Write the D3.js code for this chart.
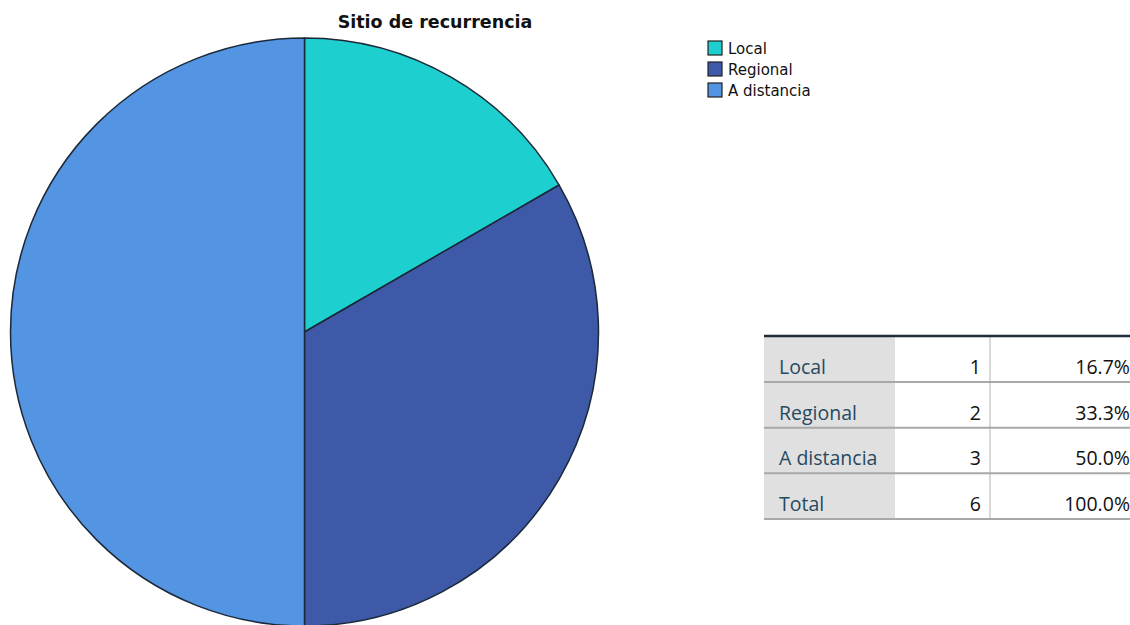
<!DOCTYPE html>
<html>
<head>
<meta charset="utf-8">
<script src="https://cdn.jsdelivr.net/npm/d3@7"></script>
<style>
  html, body { margin: 0; padding: 0; background: #fff; overflow: hidden; }
  svg { display: block; }
</style>
</head>
<body>
<svg id="chart" width="1130" height="625"></svg>
<script>
// Recurrence site frequencies
const categories = ["Local", "Regional", "A distancia"];
const counts = [1, 2, 3];
const colors = ["#1dcfcf", "#3e59a8", "#5394e3"];
const totalLabel = "Total";
const title = "Sitio de recurrencia";

const svg = d3.select("#chart");
const total = d3.sum(counts);
const fmtPct = v => (v * 100).toFixed(1) + "%";

// Title
svg.append("text")
  .attr("x", 435).attr("y", 28)
  .attr("text-anchor", "middle")
  .attr("font-family", "'DejaVu Sans', sans-serif")
  .attr("font-weight", "bold")
  .attr("font-size", 17.5)
  .attr("fill", "#111")
  .text(title);

// Pie
const cx = 304.5, cy = 332, r = 294;
const pie = d3.pie().sort(null).value(d => d.value);
const arc = d3.arc().innerRadius(0).outerRadius(r);
const slices = pie(categories.map((c, i) => ({ name: c, value: counts[i], color: colors[i] })));

svg.append("g")
  .attr("transform", `translate(${cx},${cy})`)
  .selectAll("path")
  .data(slices)
  .join("path")
  .attr("d", arc)
  .attr("fill", d => d.data.color)
  .attr("stroke", "#1b2838")
  .attr("stroke-width", 1.5)
  .attr("stroke-linejoin", "round");

// Legend
const legend = svg.append("g").attr("transform", "translate(708,41)");
const lg = legend.selectAll("g")
  .data(categories)
  .join("g")
  .attr("transform", (d, i) => `translate(0,${i * 21})`);
lg.append("rect")
  .attr("width", 14).attr("height", 14)
  .attr("fill", (d, i) => colors[i])
  .attr("stroke", "#222")
  .attr("stroke-width", 1.2);
lg.append("text")
  .attr("x", 20).attr("y", 12.5)
  .attr("font-family", "'DejaVu Sans', sans-serif")
  .attr("font-size", 15)
  .attr("fill", "#111")
  .text(d => d);

// Frequency table
const rows = categories.map((c, i) => ({ label: c, n: counts[i], p: counts[i] / total }));
rows.push({ label: totalLabel, n: total, p: 1 });

const tx0 = 764, tx1 = 895, tx2 = 990, tx3 = 1130;
const ty0 = 336.5, rowH = 45.6;
const table = svg.append("g");

table.append("rect")
  .attr("x", tx0).attr("y", ty0)
  .attr("width", tx1 - tx0).attr("height", rowH * rows.length)
  .attr("fill", "#e0e0e0");

table.append("line")
  .attr("x1", tx2).attr("x2", tx2)
  .attr("y1", ty0).attr("y2", ty0 + rowH * rows.length)
  .attr("stroke", "#d8d8d8").attr("stroke-width", 2);

table.append("line")
  .attr("x1", tx0).attr("x2", tx3)
  .attr("y1", ty0 - 0.5).attr("y2", ty0 - 0.5)
  .attr("stroke", "#1c2b38").attr("stroke-width", 2.5);

const tr = table.selectAll("g.row")
  .data(rows)
  .join("g")
  .attr("class", "row")
  .attr("transform", (d, i) => `translate(0,${ty0 + i * rowH})`);

tr.append("line")
  .attr("x1", tx0).attr("x2", tx3)
  .attr("y1", rowH).attr("y2", rowH)
  .attr("stroke", "#a8a8a8").attr("stroke-width", 2);

tr.append("text")
  .attr("x", 779).attr("y", 37.5)
  .attr("font-family", "'Open Sans', sans-serif")
  .attr("font-size", 19.5)
  .attr("fill", "#264a60")
  .text(d => d.label);

tr.append("text")
  .attr("x", 981).attr("y", 37.5)
  .attr("text-anchor", "end")
  .attr("font-family", "'Open Sans', sans-serif")
  .attr("font-size", 19.5)
  .attr("fill", "#111")
  .text(d => d.n);

tr.append("text")
  .attr("x", 1130).attr("y", 37.5)
  .attr("text-anchor", "end")
  .attr("font-family", "'Open Sans', sans-serif")
  .attr("font-size", 19.5)
  .attr("fill", "#111")
  .text(d => fmtPct(d.p));
</script>
</body>
</html>
